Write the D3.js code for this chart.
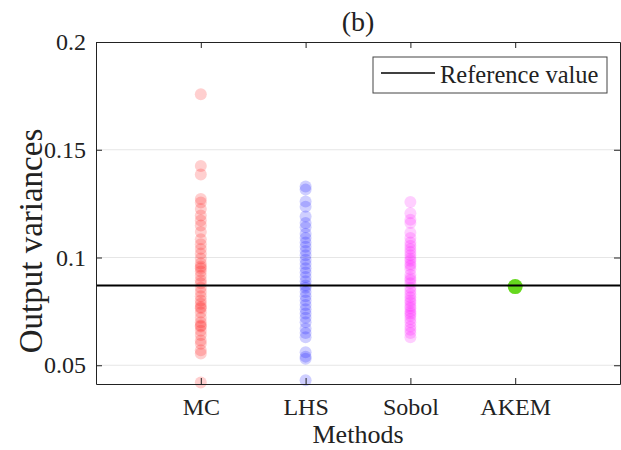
<!DOCTYPE html>
<html>
<head>
<meta charset="utf-8">
<script src="https://cdn.jsdelivr.net/npm/d3@7"></script>
<style>
  body { margin: 0; background: #fff; }
  text { font-family: "Liberation Serif", "Times New Roman", serif; fill: #222; }
</style>
</head>
<body>
<div id="chart"></div>
<script>
// Data
var methods = ["MC", "LHS", "Sobol", "AKEM"];
var yTicks = [0.05, 0.1, 0.15, 0.2];
var referenceValue = 0.087;

var mcValues = [0.1757, 0.1425, 0.1385, 0.1272, 0.1255, 0.1225, 0.1195, 0.1172, 0.1148, 0.1118,
  0.1085, 0.1062, 0.1040, 0.1018, 0.0995, 0.0972, 0.0958, 0.0950, 0.0935, 0.0915,
  0.0895, 0.0880, 0.0860, 0.0840, 0.0820, 0.0800, 0.0785, 0.0770, 0.0765, 0.0745,
  0.0720, 0.0700, 0.0685, 0.0680, 0.0660, 0.0640, 0.0615, 0.0600, 0.0570, 0.0555, 0.0420];
var lhsValues = [0.1330, 0.1315, 0.1260, 0.1235, 0.1190, 0.1160, 0.1140, 0.1110, 0.1090, 0.1070,
  0.1050, 0.1030, 0.1010, 0.0990, 0.0970, 0.0950, 0.0930, 0.0910, 0.0890, 0.0870,
  0.0860, 0.0840, 0.0820, 0.0800, 0.0780, 0.0760, 0.0740, 0.0720, 0.0700, 0.0670,
  0.0650, 0.0630, 0.0560, 0.0540, 0.0530, 0.0430];
var sobolValues = [0.1258, 0.1205, 0.1175, 0.1160, 0.1115, 0.1090, 0.1070, 0.1055, 0.1040, 0.1025,
  0.1010, 0.0995, 0.0985, 0.0970, 0.0960, 0.0945, 0.0920, 0.0905, 0.0895, 0.0880,
  0.0860, 0.0845, 0.0830, 0.0815, 0.0800, 0.0790, 0.0775, 0.0765, 0.0750, 0.0740,
  0.0730, 0.0715, 0.0700, 0.0680, 0.0665, 0.0650, 0.0630];
var akemValues = [0.0865];

var svgWidth = 621;
var svgHeight = 450;
var margin = { top: 42, right: 1, bottom: 66, left: 96 };
var width = svgWidth - margin.left - margin.right;
var height = svgHeight - margin.top - margin.bottom;

var svg = d3.select("#chart")
  .append("svg")
  .attr("width", svgWidth)
  .attr("height", svgHeight);

var chartGroup = svg.append("g")
  .attr("transform", `translate(${margin.left}, ${margin.top})`);

var xScale = d3.scaleLinear().domain([0, 5]).range([0, width]);
var yScale = d3.scaleLinear().domain([0.0413, 0.2]).range([height, 0]);

// grid lines
chartGroup.selectAll(".grid")
  .data(yTicks.filter(d => d < 0.2))
  .enter()
  .append("line")
  .attr("x1", 0)
  .attr("x2", width)
  .attr("y1", d => yScale(d))
  .attr("y2", d => yScale(d))
  .attr("stroke", "#e6e6e6")
  .attr("stroke-width", 1);

// scatter columns
var series = [
  { values: mcValues, color: "rgb(255,0,0)", r: 6, op: 0.19 },
  { values: lhsValues, color: "rgb(0,0,255)", r: 6, op: 0.19 },
  { values: sobolValues, color: "rgb(255,0,255)", r: 6, op: 0.19 },
  { values: akemValues, color: "rgb(102,216,30)", r: 7.5, op: 1 }
];

series.forEach(function(s, i) {
  chartGroup.append("g")
    .selectAll("circle")
    .data(s.values)
    .enter()
    .append("circle")
    .attr("cx", xScale(i + 1))
    .attr("cy", d => yScale(d))
    .attr("r", s.r)
    .attr("fill", s.color)
    .attr("fill-opacity", s.op);
});

// reference line
chartGroup.append("line")
  .attr("x1", 0)
  .attr("x2", width)
  .attr("y1", yScale(referenceValue))
  .attr("y2", yScale(referenceValue))
  .attr("stroke", "#000")
  .attr("stroke-width", 2);

// axes (ticks inward, box on)
var bottomAxis = d3.axisBottom(xScale)
  .tickValues([1, 2, 3, 4])
  .tickFormat(d => methods[d - 1])
  .tickSizeInner(-6)
  .tickSizeOuter(0)
  .tickPadding(14);
var leftAxis = d3.axisLeft(yScale)
  .tickValues(yTicks)
  .tickFormat(d => d)
  .tickSizeInner(-6)
  .tickSizeOuter(0)
  .tickPadding(10);
var topAxis = d3.axisTop(xScale).tickValues([1, 2, 3, 4]).tickFormat("").tickSizeInner(-6).tickSizeOuter(0);
var rightAxis = d3.axisRight(yScale).tickValues(yTicks).tickFormat("").tickSizeInner(-6).tickSizeOuter(0);

var gx = chartGroup.append("g")
  .attr("transform", `translate(0, ${height})`)
  .call(bottomAxis);
var gy = chartGroup.append("g").call(leftAxis);
var gt = chartGroup.append("g").call(topAxis);
var gr = chartGroup.append("g").attr("transform", `translate(${width}, 0)`).call(rightAxis);

[gx, gy, gt, gr].forEach(function(g) {
  g.select(".domain").attr("stroke", "#222").attr("stroke-width", 1);
  g.selectAll(".tick line").attr("stroke", "#222");
  g.selectAll(".tick text")
    .attr("font-family", "Liberation Serif, Times New Roman, serif")
    .attr("font-size", 24)
    .attr("fill", "#222");
});

// legend
var legend = chartGroup.append("g")
  .attr("transform", "translate(277, 15)");
legend.append("rect")
  .attr("width", 234)
  .attr("height", 36)
  .attr("fill", "#fff")
  .attr("stroke", "#444")
  .attr("stroke-width", 1);
legend.append("line")
  .attr("x1", 8)
  .attr("x2", 62)
  .attr("y1", 16)
  .attr("y2", 16)
  .attr("stroke", "#000")
  .attr("stroke-width", 1.5);
legend.append("text")
  .attr("x", 67)
  .attr("y", 26)
  .attr("font-size", 24.5)
  .text("Reference value");

// title and axis labels
svg.append("text")
  .attr("x", margin.left + width / 2)
  .attr("y", 31)
  .attr("text-anchor", "middle")
  .attr("font-size", 28)
  .text("(b)");

svg.append("text")
  .attr("x", margin.left + width / 2)
  .attr("y", 443)
  .attr("text-anchor", "middle")
  .attr("font-size", 26)
  .text("Methods");

svg.append("text")
  .attr("transform", "translate(42, 241) rotate(-90)")
  .attr("text-anchor", "middle")
  .attr("font-size", 33)
  .text("Output variances");
</script>
</body>
</html>
